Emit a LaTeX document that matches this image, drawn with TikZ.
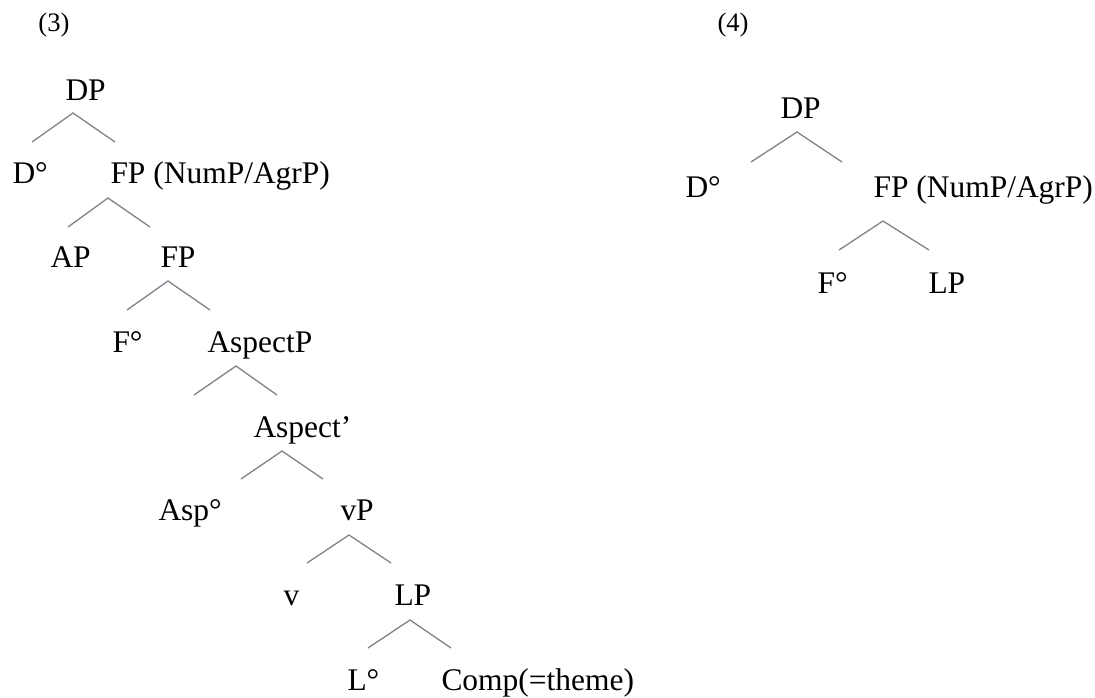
\documentclass[tikz,border=0pt]{standalone}
\usepackage{fontspec}
\setmainfont{Liberation Serif}

\tikzset{every picture/.style={line width=0.75pt}}
\tikzset{
  lbl/.style={anchor=base west,inner sep=0pt,font=\fontsize{23.6}{28}\selectfont},
  numlbl/.style={anchor=base west,inner sep=0pt,font=\fontsize{20}{24}\selectfont},
  branch/.style={draw={rgb, 255:red, 128; green, 132; blue, 140},line width=1pt}
}

\begin{document}
\begin{tikzpicture}[x=0.75pt,y=0.75pt,yscale=-1,xscale=1]
		\useasboundingbox (0,0) rectangle (1095,697);
		
		%Tree (3)
		\draw (38,31) node [numlbl] (lab3) {(3)};
		\draw (65,100) node [lbl] (dp) {DP};
		\draw (12,183) node [lbl] (d) {D°};
		\draw (110,183) node [lbl] (fp) {FP (NumP/AgrP)};
		\draw (50,267) node [lbl] (ap) {AP};
		\draw (160,267) node [lbl] (fpb) {FP};
		\draw (112,352) node [lbl] (f) {F°};
		\draw (207,352) node [lbl] (aspp) {AspectP};
		\draw (253,437) node [lbl] (aspbar) {Aspect’};
		\draw (158,520) node [lbl] (asp) {Asp°};
		\draw (340,520) node [lbl] (vp) {vP};
		\draw (283,605) node [lbl] (v) {v};
		\draw (394,605) node [lbl] (lp) {LP};
		\draw (347,690) node [lbl] (l) {L°};
		\draw (441,690) node [lbl] (comp) {Comp(=theme)};
		
		%Tree (4)
		\draw (717,31) node [numlbl] (lab4) {(4)};
		\draw (780,118) node [lbl] (dpf) {DP};
		\draw (685,197) node [lbl] (df) {D°};
		\draw (873,197) node [lbl] (fpf) {FP (NumP/AgrP)};
		\draw (817,293) node [lbl] (ff) {F°};
		\draw (928,293) node [lbl] (lpf) {LP};
		
		%Branch points
		\coordinate (dp-t) at (73,113);   \coordinate (dp-l) at (32,142);   \coordinate (dp-r) at (115,142);
		\coordinate (fp-t) at (108,198);  \coordinate (fp-l) at (68,227);   \coordinate (fp-r) at (150,227);
		\coordinate (fpb-t) at (168,281); \coordinate (fpb-l) at (127,310); \coordinate (fpb-r) at (210,310);
		\coordinate (aspp-t) at (236,366); \coordinate (aspp-l) at (194,395); \coordinate (aspp-r) at (277,395);
		\coordinate (aspbar-t) at (282,451); \coordinate (aspbar-l) at (241,479); \coordinate (aspbar-r) at (323,479);
		\coordinate (vp-t) at (349,535); \coordinate (vp-l) at (307,563); \coordinate (vp-r) at (391,563);
		\coordinate (lp-t) at (410,620); \coordinate (lp-l) at (368,648); \coordinate (lp-r) at (451,648);
		\coordinate (dpf-t) at (797,132); \coordinate (dpf-l) at (751,162); \coordinate (dpf-r) at (842,162);
		\coordinate (fpf-t) at (883,221); \coordinate (fpf-l) at (839,250); \coordinate (fpf-r) at (929,250);
		
		\foreach \p in {dp,fp,fpb,aspp,aspbar,vp,lp,dpf,fpf}
		  \draw [branch] (\p-l) -- (\p-t) -- (\p-r) ;
		
	\end{tikzpicture}
\end{document}
